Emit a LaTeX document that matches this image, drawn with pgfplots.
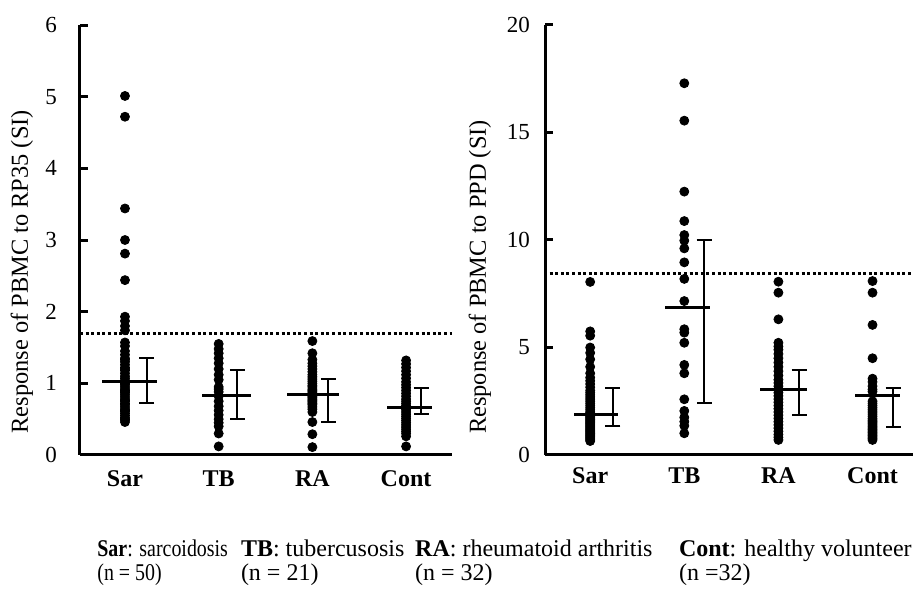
\documentclass[border=0pt]{standalone}
\usepackage{fontspec}
\setmainfont{Liberation Serif}
\usepackage{pgfplots}
\pgfplotsset{compat=1.18}
\usepackage{pgfplotstable}

% mean lines (drawn as horizontal x-error bars around each group centre)
\pgfplotstableread{
x m xm xp
0 1.02 0.25 0.34
1 0.83 0.18 0.35
2 0.85 0.27 0.28
3 0.66 0.20 0.28
}\leftmean
\pgfplotstableread{
x m ep em
0.23 1.02 0.34 0.29
1.20 0.83 0.35 0.33
2.17 0.85 0.21 0.39
3.16 0.66 0.27 0.09
}\lefterr
\pgfplotstableread{
x m xm xp
0 1.89 0.17 0.30
1 6.87 0.21 0.27
2 3.06 0.20 0.30
3 2.79 0.19 0.29
}\rightmean
\pgfplotstableread{
x m ep em
0.24 1.89 1.24 0.53
1.21 6.87 3.13 4.47
2.22 3.06 0.89 1.19
3.22 2.79 0.34 1.47
}\righterr

\pgfplotsset{
  panel/.style={
    scale only axis, anchor=south west,
    height=215pt,
    axis lines=left,
    axis line style={-, line width=1.5pt, black},
    xmin=-0.48, ymin=0,
    xtick={0,1,2,3}, xticklabels={Sar,TB,RA,Cont},
    x tick style={draw=none},
    y tick style={line width=1.5pt, black},
    tick align=inside, major tick length=4pt,
    xticklabel style={font=\fontsize{12}{14}\selectfont\bfseries},
    yticklabel style={font=\fontsize{11.5}{13}\selectfont},
    /pgf/number format/assume math mode=true,
    clip=false,
  },
  dots/.style={only marks, mark=*, mark size=2.25pt, black, mark options={fill=black, draw=black}},
  cut/.style={line width=1.5pt, black, dash pattern=on 1.5pt off 1.3pt},
  meanline/.style={draw=none, mark=none, forget plot,
    error bars/.cd, x dir=both, x explicit, error mark=none,
    error bar style={line width=1.5pt, black, draw=black}},
  errbar/.style={draw=none, mark=none, forget plot,
    error bars/.cd, y dir=both, y explicit, error mark=-,
    error bar style={line width=1pt, black, draw=black},
    error mark options={rotate=90, draw=black, line width=1pt, mark size=3.75pt}},
}

\begin{document}
\begin{tikzpicture}
\useasboundingbox (0,0) rectangle (457pt,294pt);

% ---------------- left panel: RP35 ----------------
\begin{axis}[panel, at={(40pt,66.5pt)}, width=186pt,
  xmax=3.49, ymax=6, ytick={0,1,2,3,4,5,6},
  yticklabel style={xshift=-8pt},
  xticklabel style={yshift=-4.5pt},
  ylabel={Response of PBMC to RP35 (SI)},
  every axis y label/.style={at={(axis description cs:-0.156,0.426)}, rotate=90, anchor=center, font=\fontsize{12.2}{14}\selectfont}]
\addplot[cut] coordinates {(-0.48,1.70) (3.49,1.70)};
\addplot[dots] coordinates {
(0,5.01)(0,4.72)(0,3.44)(0,3.00)(0,2.81)(0,2.44)(0,1.93)(0,1.87)(0,1.80)(0,1.74)
(0,1.57)(0,1.52)(0,1.45)(0,1.40)(0,1.35)(0,1.30)(0,1.26)(0,1.22)(0,1.18)(0,1.14)
(0,1.10)(0,1.07)(0,1.04)(0,1.01)(0,0.98)(0,0.95)(0,0.92)(0,0.90)(0,0.87)(0,0.84)
(0,0.81)(0,0.78)(0,0.75)(0,0.72)(0,0.70)(0,0.67)(0,0.64)(0,0.61)(0,0.58)(0,0.55)
(0,0.52)(0,0.49)(0,0.46)(0,1.33)(0,1.20)(0,1.00)(0,0.88)(0,0.76)(0,0.62)(0,0.50)};
\addplot[dots] coordinates {
(1,1.55)(1,1.48)(1,1.42)(1,1.35)(1,1.28)(1,1.20)(1,1.12)(1,1.05)(1,0.95)(1,0.92)
(1,0.88)(1,0.82)(1,0.75)(1,0.68)(1,0.62)(1,0.56)(1,0.50)(1,0.45)(1,0.40)(1,0.30)(1,0.12)};
\addplot[dots] coordinates {
(2,1.59)(2,1.42)(2,1.33)(2,1.28)(2,1.24)(2,1.20)(2,1.16)(2,1.12)(2,1.09)(2,1.06)
(2,1.03)(2,1.00)(2,0.97)(2,0.95)(2,0.92)(2,0.90)(2,0.88)(2,0.86)(2,0.84)(2,0.82)
(2,0.80)(2,0.78)(2,0.76)(2,0.74)(2,0.72)(2,0.70)(2,0.67)(2,0.64)(2,0.60)(2,0.46)
(2,0.29)(2,0.11)};
\addplot[dots] coordinates {
(3,1.32)(3,1.27)(3,1.22)(3,1.17)(3,1.12)(3,1.07)(3,1.02)(3,0.98)(3,0.94)(3,0.90)
(3,0.86)(3,0.82)(3,0.78)(3,0.75)(3,0.72)(3,0.69)(3,0.66)(3,0.63)(3,0.60)(3,0.57)
(3,0.54)(3,0.51)(3,0.48)(3,0.45)(3,0.42)(3,0.39)(3,0.36)(3,0.33)(3,0.30)(3,0.26)
(3,0.12)(3,0.65)};
\addplot[meanline] table[x=x, y=m, x error plus=xp, x error minus=xm] {\leftmean};
\addplot[errbar] table[x=x, y=m, y error plus=ep, y error minus=em] {\lefterr};
\end{axis}

% ---------------- right panel: PPD ----------------
\begin{axis}[panel, at={(272.5pt,66.5pt)}, width=184pt,
  xmax=3.43, ymax=20, ytick={0,5,10,15,20},
  yticklabel style={xshift=-4pt},
  xticklabel style={yshift=-3pt},
  ylabel={Response of PBMC to PPD (SI)},
  every axis y label/.style={at={(axis description cs:-0.177,0.414)}, rotate=90, anchor=center, font=\fontsize{12.2}{14}\selectfont}]
\addplot[cut] coordinates {(-0.49,8.42) (3.43,8.42)};
\addplot[dots] coordinates {
(0,8.05)(0,5.75)(0,5.55)(0,5.00)(0,4.75)(0,4.45)(0,4.10)(0,3.80)(0,3.60)(0,3.45)
(0,3.30)(0,3.15)(0,3.00)(0,2.90)(0,2.80)(0,2.70)(0,2.60)(0,2.50)(0,2.40)(0,2.30)
(0,2.20)(0,2.10)(0,2.00)(0,1.95)(0,1.90)(0,1.85)(0,1.80)(0,1.75)(0,1.70)(0,1.65)
(0,1.60)(0,1.55)(0,1.50)(0,1.45)(0,1.40)(0,1.35)(0,1.30)(0,1.25)(0,1.20)(0,1.15)
(0,1.10)(0,1.05)(0,1.00)(0,0.95)(0,0.90)(0,0.85)(0,0.80)(0,0.75)(0,0.70)(0,0.65)};
\addplot[dots] coordinates {
(1,17.29)(1,15.55)(1,12.25)(1,10.88)(1,10.23)(1,9.97)(1,9.61)(1,8.96)(1,8.19)(1,7.16)
(1,5.85)(1,5.69)(1,5.22)(1,4.19)(1,3.80)(1,2.59)(1,2.05)(1,1.75)(1,1.55)(1,1.36)(1,1.01)};
\addplot[dots] coordinates {
(2,8.06)(2,7.55)(2,6.31)(2,5.22)(2,5.05)(2,4.90)(2,4.70)(2,4.50)(2,4.30)(2,4.10)
(2,3.90)(2,3.70)(2,3.50)(2,3.35)(2,3.20)(2,3.05)(2,2.90)(2,2.75)(2,2.60)(2,2.45)
(2,2.30)(2,2.15)(2,2.00)(2,1.85)(2,1.70)(2,1.55)(2,1.40)(2,1.25)(2,1.10)(2,0.95)
(2,0.82)(2,0.70)};
\addplot[dots] coordinates {
(3,8.09)(3,7.55)(3,6.05)(3,4.50)(3,3.55)(3,3.40)(3,3.20)(3,3.05)(3,2.95)(3,2.50)
(3,2.40)(3,2.30)(3,2.20)(3,2.10)(3,2.00)(3,1.90)(3,1.80)(3,1.70)(3,1.62)(3,1.55)
(3,1.48)(3,1.40)(3,1.33)(3,1.26)(3,1.19)(3,1.12)(3,1.05)(3,0.98)(3,0.91)(3,0.84)
(3,0.77)(3,0.70)};
\addplot[meanline] table[x=x, y=m, x error plus=xp, x error minus=xm] {\rightmean};
\addplot[errbar] table[x=x, y=m, y error plus=ep, y error minus=em] {\righterr};
\end{axis}

% ---------------- group key ----------------
\begin{scope}[every node/.style={anchor=base west, inner sep=0pt, font=\fontsize{12}{14}\selectfont}]
\node at (48.5pt,16pt) {\scalebox{0.83}[1]{\textbf{Sar}: sarcoidosis}};
\node at (48.5pt,3.5pt) {\scalebox{0.83}[1]{(n = 50)}};
\node at (120.3pt,16pt) {\textbf{TB}: tubercusosis};
\node at (120.3pt,3.5pt) {(n = 21)};
\node at (207.4pt,16pt) {\textbf{RA}: rheumatoid arthritis};
\node at (207.4pt,3.5pt) {(n = 32)};
\node at (339.3pt,16pt) {\textbf{Cont}: healthy volunteer};
\node at (339.3pt,3.5pt) {(n =32)};
\end{scope}
\end{tikzpicture}
\end{document}
